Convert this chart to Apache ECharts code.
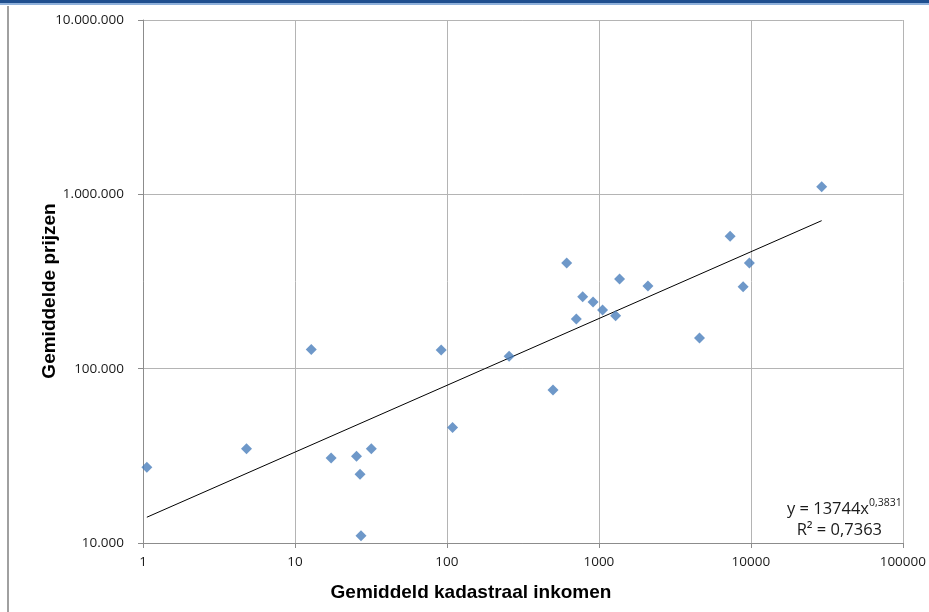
<!DOCTYPE html>
<html>
<head>
<meta charset="utf-8">
<script src="https://cdn.jsdelivr.net/npm/echarts@6/dist/echarts.min.js"></script>
<style>
html,body{margin:0;padding:0;background:#fff;}
#chart{width:929px;height:612px;}
</style>
</head>
<body>
<div id="chart"></div>
<script>
// Data
var kadastraalInkomen = [1.06, 4.8, 12.8, 17.3, 25.4, 26.8, 31.8, 27.2, 91.7, 108.9, 256.6, 499, 614, 710, 782, 915, 1057, 1288, 1368, 2102, 4590, 7300, 8890, 9775, 29230];
var prijzen = [27200, 34700, 129000, 30700, 31400, 24800, 34700, 11000, 128000, 46000, 118000, 75400, 404000, 192600, 258600, 241000, 216900, 201200, 326600, 297700, 149900, 574000, 295000, 404000, 1106000];
// Power trendline as shown in the chart: y = 13744 x^0.3831
var trendA = 13744, trendB = 0.3831;
var trendX = [1.06, 29230];
var xTitle = 'Gemiddeld kadastraal inkomen';
var yTitle = 'Gemiddelde prijzen';

var points = kadastraalInkomen.map(function (x, i) { return [x, prijzen[i]]; });
var trendLine = trendX.map(function (x) { return [x, trendA * Math.pow(x, trendB)]; });

function dots(v) {
  return String(Math.round(v)).replace(/\B(?=(\d{3})+(?!\d))/g, '.');
}

var chart = echarts.init(document.getElementById('chart'));
var labelFont = '"Open Sans", "Liberation Sans", sans-serif';
chart.setOption({
  animation: false,
  backgroundColor: '#ffffff',
  grid: { left: 143, right: 25, top: 20, bottom: 69, containLabel: false },
  xAxis: {
    type: 'log', logBase: 10, min: 1, max: 100000,
    axisLine: { show: true, lineStyle: { color: '#8c8c8c', width: 1 } },
    axisTick: { show: true, length: 5, lineStyle: { color: '#8c8c8c' } },
    minorTick: { show: false },
    splitLine: { show: true, lineStyle: { color: '#b4b4b4', width: 1 } },
    axisLabel: { color: '#1a1a1a', fontSize: 13.5, fontFamily: labelFont, margin: 12,
      formatter: function (v) { return String(Math.round(v)); } }
  },
  yAxis: {
    type: 'log', logBase: 10, min: 10000, max: 10000000,
    axisLine: { show: true, lineStyle: { color: '#8c8c8c', width: 1 } },
    axisTick: { show: true, length: 5, lineStyle: { color: '#8c8c8c' } },
    minorTick: { show: false },
    splitLine: { show: true, lineStyle: { color: '#b4b4b4', width: 1 } },
    axisLabel: { color: '#1a1a1a', fontSize: 13.5, fontFamily: labelFont, margin: 19,
      formatter: function (v) { return dots(v); } }
  },
  series: [
    {
      type: 'line', data: trendLine, symbol: 'none', silent: true,
      lineStyle: { color: '#000', width: 1 }, z: 2
    },
    {
      type: 'scatter', data: points, symbol: 'diamond', symbolSize: 11,
      itemStyle: { color: '#4a7ebb' }, z: 3
    }
  ],
  graphic: [
    { type: 'rect', shape: { x: 0, y: 0, width: 929, height: 3 }, style: { fill: '#1f4f8f' }, silent: true },
    { type: 'rect', shape: { x: 0, y: 3, width: 929, height: 2 }, style: { fill: '#8fb1db' }, silent: true },
    { type: 'rect', shape: { x: 7, y: 6, width: 2, height: 606 }, style: { fill: '#a0a0a0' }, silent: true },
    {
      type: 'text', x: 50, y: 291, rotation: Math.PI / 2,
      style: { text: yTitle, font: 'bold 19px "Liberation Sans", Arial, sans-serif', fill: '#000', align: 'center', verticalAlign: 'middle' }
    },
    {
      type: 'text', x: 471, y: 593,
      style: { text: xTitle, font: 'bold 19px "Liberation Sans", Arial, sans-serif', fill: '#000', align: 'center', verticalAlign: 'middle' }
    },
    {
      type: 'text', x: 869, y: 509,
      style: { text: 'y = 13744x', font: '16.5px "Open Sans", sans-serif', fill: '#1a1a1a', align: 'right', verticalAlign: 'middle' }
    },
    {
      type: 'text', x: 869, y: 503,
      style: { text: '0,3831', font: '10.5px "Open Sans", sans-serif', fill: '#1a1a1a', align: 'left', verticalAlign: 'middle' }
    },
    {
      type: 'text', x: 882, y: 530,
      style: { text: 'R² = 0,7363', font: '16.5px "Open Sans", sans-serif', fill: '#1a1a1a', align: 'right', verticalAlign: 'middle' }
    }
  ]
});
</script>
</body>
</html>
